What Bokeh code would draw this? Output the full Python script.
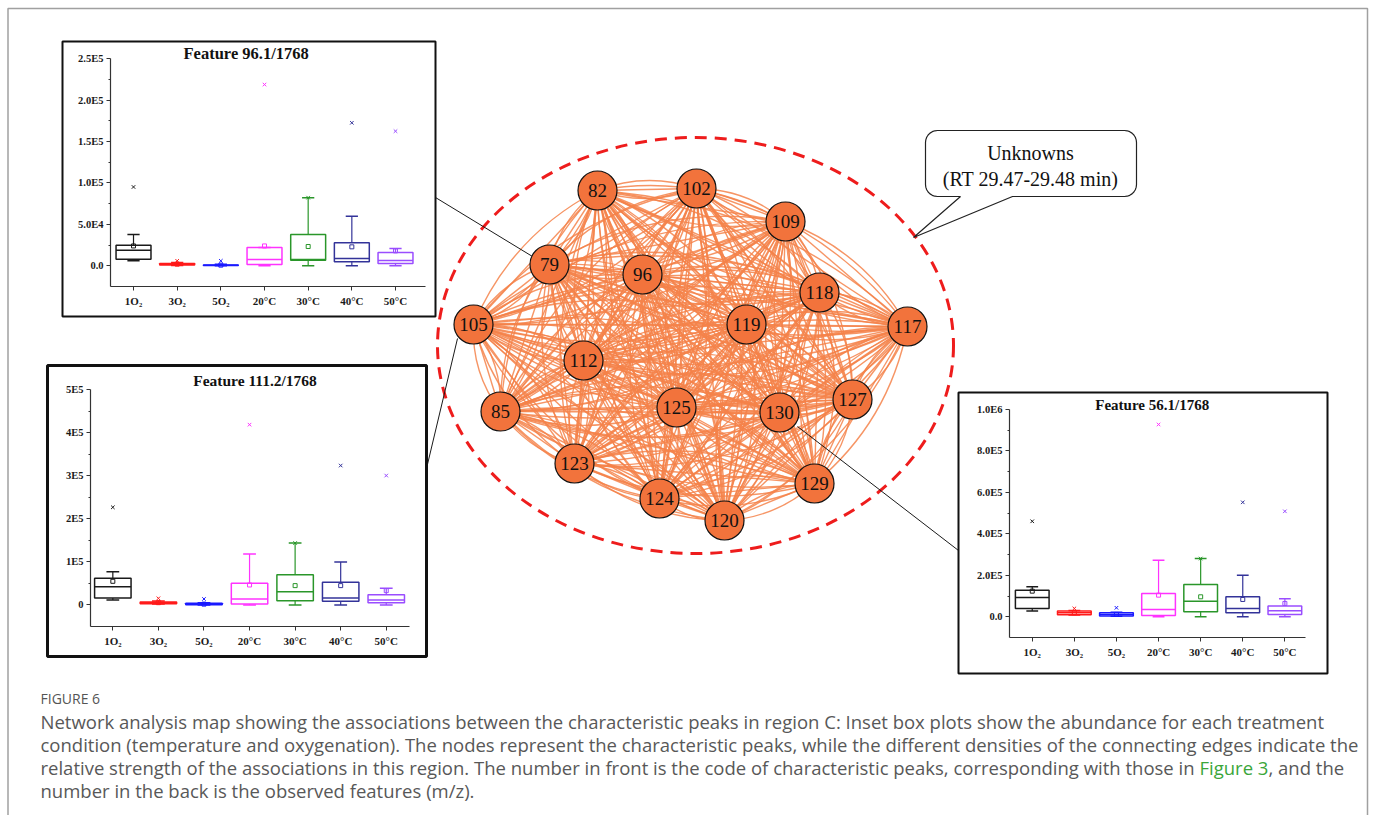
import numpy as np
from bokeh.plotting import figure
from bokeh.models import Range1d, GridBox, FixedTicker
from bokeh.core.properties import value
from bokeh.embed import file_html
from bokeh.resources import INLINE

# ---------------- data ----------------
categories = ["1O\u2082", "3O\u2082", "5O\u2082", "20\u00b0C", "30\u00b0C", "40\u00b0C", "50\u00b0C"]
box_colors = ["#1a1a1a", "#ff1a1a", "#1a1aff", "#ff33ff", "#2a962a", "#333399", "#9a4dff"]

node_labels = ["82", "102", "109", "79", "96", "118", "105", "119", "117",
               "112", "85", "125", "130", "127", "123", "124", "129", "120"]
node_x = [597, 696, 785, 549, 642, 819, 473, 746, 907, 583, 500, 676, 779, 852, 574, 659, 814, 724]
node_y = [190, 188, 221, 264, 274, 292, 324, 324, 326, 360, 411, 407, 412, 399, 463, 498, 483, 520]

# Feature 96.1/1768
f1_q1 = [8000, 1000, 300, 1600, 6800, 4800, 2800]
f1_med = [18900, 2000, 800, 7600, 7500, 8800, 6400]
f1_q3 = [24900, 2800, 1000, 22000, 37700, 27700, 16000]
f1_whi = [37700, 4000, 2000, 22000, 82300, 59800, 20900]
f1_wlo = [6000, 500, 0, 0, 0, 0, 0]
f1_mean = [24000, 2000, 800, 24000, 23300, 22900, 18000]
f1_out = [95200, 6000, 6000, 218900, 82300, 172700, 162600]

# Feature 111.2/1768
f2_q1 = [16300, 3100, 800, 2300, 10000, 8500, 5400]
f2_med = [42600, 5400, 2000, 14000, 31000, 16300, 11600]
f2_q3 = [62000, 7000, 3900, 50400, 70500, 52700, 24000]
f2_whi = [77500, 9000, 5000, 118600, 144000, 100000, 38800]
f2_wlo = [11600, 2000, 0, 0, 0, 0, 0]
f2_mean = [55000, 5400, 2000, 46500, 45000, 45000, 33300]
f2_out = [227000, 15500, 14000, 419000, 144000, 324000, 300700]

# Feature 56.1/1768
f3_q1 = [40100, 9600, 3200, 6400, 24100, 19300, 11200]
f3_med = [93100, 19300, 11200, 35300, 75400, 40100, 28900]
f3_q3 = [128400, 27300, 19300, 112400, 155700, 96300, 51400]
f3_whi = [144500, 30000, 22000, 272900, 280900, 200600, 86700]
f3_wlo = [27300, 8000, 2000, 0, 0, 0, 0]
f3_mean = [123600, 19300, 11200, 104300, 96300, 83500, 64200]
f3_out = [460600, 40100, 43300, 927700, 280900, 552100, 508800]

f1_ticks = [0, 50000, 100000, 150000, 200000, 250000]
f1_tick_labels = ["0.0", "5.0E4", "1.0E5", "1.5E5", "2.0E5", "2.5E5"]
f2_ticks = [0, 100000, 200000, 300000, 400000, 500000]
f2_tick_labels = ["0", "1E5", "2E5", "3E5", "4E5", "5E5"]
f3_ticks = [0, 200000, 400000, 600000, 800000, 1000000]
f3_tick_labels = ["0.0", "2.0E5", "4.0E5", "6.0E5", "8.0E5", "1.0E6"]

caption_head = "FIGURE 6"
caption_lines = [
    "Network analysis map showing the associations between the characteristic peaks in region C: Inset box plots show the abundance for each treatment",
    "condition (temperature and oxygenation). The nodes represent the characteristic peaks, while the different densities of the connecting edges indicate the",
    "relative strength of the associations in this region. The number in front is the code of characteristic peaks, corresponding with those in",
    "number in the back is the observed features (m/z).",
]
caption_link = "Figure 3"
caption_tail = ", and the"

SERIF = "Liberation Serif"
SANS = "Open Sans"

# ---------------- main canvas (page pixel coordinates) ----------------
W, H = 1369, 815
p = figure(width=W, height=H, x_range=Range1d(0, W), y_range=Range1d(H, 0),
           output_backend="svg", toolbar_location=None, min_border=0,
           x_axis_location=None, y_axis_location=None)
p.grid.visible = False
p.outline_line_color = None
p.background_fill_color = "white"
p.border_fill_color = "white"

# outer light border (open at the bottom)
p.line(x=[7.5, 7.5, 1367, 1367], y=[H, 8, 8, H], line_color="#a0a0a0", line_width=1.5)

# edges: complete graph, curved
nx_ = np.array(node_x, float)
ny_ = np.array(node_y, float)
x0s, y0s, x1s, y1s, cxs, cys = [], [], [], [], [], []
n = len(node_x)
for i in range(n):
    for j in range(i + 1, n):
        dx, dy = nx_[j] - nx_[i], ny_[j] - ny_[i]
        mx, my = (nx_[i] + nx_[j]) / 2, (ny_[i] + ny_[j]) / 2
        for k in (-0.18, 0.0, 0.18):
            x0s.append(nx_[i]); y0s.append(ny_[i]); x1s.append(nx_[j]); y1s.append(ny_[j])
            cxs.append(mx - dy * k); cys.append(my + dx * k)
p.quadratic(x0=x0s, y0=y0s, x1=x1s, y1=y1s, cx=cxs, cy=cys,
            line_color="#f5834a", line_width=1.4, line_alpha=0.85)

# dashed enclosing ellipse
p.ellipse(x=[695], y=[345], width=[516], height=[416], fill_alpha=0,
          line_color="#ee1c1c", line_width=3, line_dash="12 8")

# connector lines
p.segment(x0=[435, 457, 797], y0=[197, 338, 426], x1=[532, 426, 958], y1=[256, 468, 550],
          line_color="#1a1a1a", line_width=1)

# nodes
p.scatter(x=node_x, y=node_y, size=39, marker="circle", fill_color="#f2733c",
          line_color="#111111", line_width=1.2)
p.text(x=node_x, y=node_y, text=node_labels, text_font=value(SERIF), text_font_size="19px",
       text_align="center", text_baseline="middle", text_color="#111111")

# inset frames
p.quad(left=[62, 958], right=[435, 1327], top=[41, 392], bottom=[316, 673],
       fill_color="white", line_color="#111111", line_width=2)
p.quad(left=[47], right=[426], top=[365], bottom=[656],
       fill_color="white", line_color="#111111", line_width=3)

# callout bubble
def callout(x0, y0, x1, y1, r, ta, tb, tip):
    xs, ys = [], []
    def arc(cx, cy, a0, a1):
        for t in np.linspace(np.radians(a0), np.radians(a1), 8):
            xs.append(cx + r * np.cos(t)); ys.append(cy + r * np.sin(t))
    arc(x0 + r, y0 + r, 180, 270)
    arc(x1 - r, y0 + r, 270, 360)
    arc(x1 - r, y1 - r, 0, 90)
    xs.extend([tb, tip[0], ta]); ys.extend([y1, tip[1], y1])
    arc(x0 + r, y1 - r, 90, 180)
    return xs, ys

cx_, cy_ = callout(925, 130, 1136, 196, 12, 960, 1012, (913, 237))
p.patch(x=cx_, y=cy_, fill_color="white", line_color="#222222", line_width=1.2)
p.text(x=[1030, 1030], y=[152, 178], text=["Unknowns", "(RT 29.47-29.48 min)"],
       text_font=value(SERIF), text_font_size="20px", text_align="center",
       text_baseline="middle", text_color="#111111")

# caption
p.text(x=[40], y=[698], text=[caption_head], text_font=value(SANS), text_font_size="14px",
       text_baseline="middle", text_color="#555555")
p.text(x=[40, 40, 40, 40], y=[721, 744, 767, 790], text=caption_lines,
       text_font=value(SANS), text_font_size="18.5px", text_baseline="middle",
       text_color="#585858")
p.text(x=[1199], y=[767], text=[caption_link], text_font=value(SANS), text_font_size="18.5px",
       text_baseline="middle", text_color="#3aa63a")
p.text(x=[1268], y=[767], text=[caption_tail], text_font=value(SANS), text_font_size="18.5px",
       text_baseline="middle", text_color="#585858")


# ---------------- inset box plots ----------------
def box_inset(w, h, xr, yr, top_tick, mb, ticks, tick_labels, minor, q1, med, q3, whi, wlo, mean, out,
              title, tx, ty, tsize):
    f = figure(width=w, height=h, x_range=Range1d(*xr), y_range=Range1d(*yr),
               output_backend="svg", toolbar_location=None,
               min_border_left=mb[0], min_border_right=mb[1], min_border_top=0, min_border_bottom=mb[2])
    f.grid.visible = False
    f.outline_line_color = None
    f.background_fill_color = "white"
    f.border_fill_color = "white"
    x = np.arange(1, 8)
    cols = box_colors
    f.vbar(x=x, width=0.8, bottom=q1, top=q3, fill_alpha=0, line_color=cols, line_width=1.5)
    f.segment(x0=x - 0.4, x1=x + 0.4, y0=med, y1=med, line_color=cols, line_width=1.5)
    f.segment(x0=x, x1=x, y0=q3, y1=whi, line_color=cols, line_width=1.2)
    f.segment(x0=x, x1=x, y0=wlo, y1=q1, line_color=cols, line_width=1.2)
    f.segment(x0=x - 0.14, x1=x + 0.14, y0=whi, y1=whi, line_color=cols, line_width=1.5)
    f.segment(x0=x - 0.14, x1=x + 0.14, y0=wlo, y1=wlo, line_color=cols, line_width=1.5)
    f.scatter(x=x, y=mean, marker="square", size=4, fill_alpha=0, line_color=cols, line_width=1)
    f.scatter(x=x, y=out, marker="x", size=5, line_color=cols, line_width=1)
    f.text(x=[tx], y=[ty], text=[title], text_font=value(SERIF), text_font_style="bold",
           text_font_size=tsize, text_align="center", text_baseline="middle", text_color="#111111")

    for ax in (f.xaxis[0], f.yaxis[0]):
        ax.axis_line_color = "#333333"
        ax.axis_line_width = 1.2
        ax.major_tick_line_color = "#333333"
        ax.minor_tick_line_color = "#333333"
        ax.major_tick_in = 0
        ax.major_tick_out = 4
        ax.minor_tick_in = 0
        ax.minor_tick_out = 2
        ax.major_label_text_font = SERIF
        ax.major_label_text_font_style = "bold"
        ax.major_label_text_color = "#1a1a1a"
    f.yaxis[0].ticker = FixedTicker(ticks=ticks, minor_ticks=minor)
    f.yaxis[0].bounds = (yr[0], top_tick)
    f.yaxis[0].major_label_overrides = {t: l for t, l in zip(ticks, tick_labels)}
    f.yaxis[0].major_label_text_font_size = "10.5px"
    f.yaxis[0].major_label_standoff = 3
    f.xaxis[0].ticker = FixedTicker(ticks=list(range(1, 8)), minor_ticks=[])
    f.xaxis[0].major_label_overrides = {i + 1: c for i, c in enumerate(categories)}
    f.xaxis[0].major_label_text_font_size = "11px"
    f.xaxis[0].major_label_standoff = 4
    return f


f1 = box_inset(369, 271, (0.473, 7.687), (-25000, 268478), 250000, (46, 8, 28),
               f1_ticks, f1_tick_labels, [25000, 75000, 125000, 175000, 225000],
               f1_q1, f1_med, f1_q3, f1_whi, f1_wlo, f1_mean, f1_out,
               "Feature 96.1/1768", 3.58, 256400, "16.5px")
f2 = box_inset(373, 285, (0.51, 7.51), (-50000, 549500), 500000, (40, 14, 27),
               f2_ticks, f2_tick_labels, [50000, 150000, 250000, 350000, 450000],
               f2_q1, f2_med, f2_q3, f2_whi, f2_wlo, f2_mean, f2_out,
               "Feature 111.2/1768", 4.12, 521600, "15.5px")
f3 = box_inset(365, 277, (0.46, 7.49), (-100000, 1072300), 1000000, (49, 20, 34),
               f3_ticks, f3_tick_labels, [100000, 300000, 500000, 700000, 900000],
               f3_q1, f3_med, f3_q3, f3_whi, f3_wlo, f3_mean, f3_out,
               "Feature 56.1/1768", 3.85, 1024000, "15px")

col_w = [50, 14, 359, 10, 527, 365, 44]
row_h = [43, 271, 54, 26, 259, 18, 144]
grid = GridBox(children=[(p, 0, 0, 7, 7), (f1, 1, 2, 1, 2), (f2, 3, 1, 2, 2), (f3, 4, 5, 2, 1)],
               rows=[f"{h}px" for h in row_h], cols=[f"{w}px" for w in col_w], spacing=0)

open("out.html", "w").write(file_html(grid, INLINE))
